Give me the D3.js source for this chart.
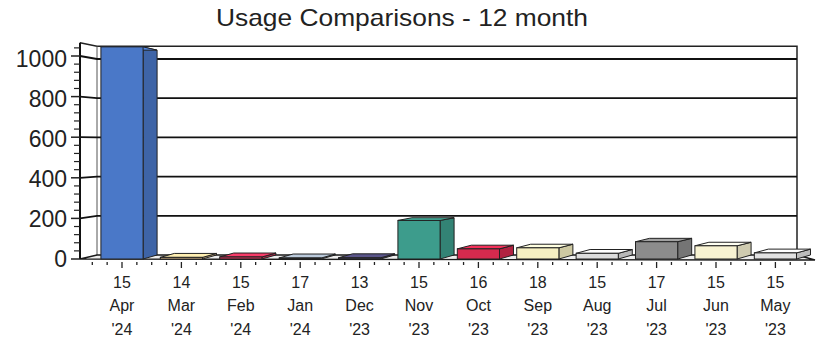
<!DOCTYPE html>
<html>
<head>
<meta charset="utf-8">
<script src="https://cdn.jsdelivr.net/npm/d3@7"></script>
<style>
  body { margin: 0; background: #fff; }
  svg text { font-family: "Liberation Sans", Arial, sans-serif; fill: #222; }
</style>
</head>
<body>
<svg id="chart" width="820" height="342"></svg>
<script>
// usage per billing period, newest first
const months = ["Apr", "Mar", "Feb", "Jan", "Dec", "Nov", "Oct", "Sep", "Aug", "Jul", "Jun", "May"];
const days = ["15", "14", "15", "17", "13", "15", "16", "18", "15", "17", "15", "15"];
const years = ["'24", "'24", "'24", "'24", "'23", "'23", "'23", "'23", "'23", "'23", "'23", "'23"];
const usage = [1045, 8, 10, 5, 6, 190, 50, 55, 28, 85, 65, 30];
const barColors = ["#4a78c8", "#f3cf9a", "#d8345c", "#a3b0bf", "#4e4a78", "#3d9c8c",
                   "#d42a4e", "#f6f0c2", "#dcdcdc", "#8c8c8c", "#f8f3d2", "#e2e2e2"];
const yTicks = [0, 200, 400, 600, 800, 1000];
const yMax = 1065;

const svg = d3.select("#chart");

// front plane and back wall use slightly different vertical scales (perspective)
const yFront = d3.scaleLinear().domain([0, 1000]).range([259, 56]);
const yBack = d3.scaleLinear().domain([0, 1000]).range([255, 59]);
const x = d3.scaleBand().domain(months.map((m, i) => i)).range([92.3, 805.1])
    .paddingInner(0.29).paddingOuter(0.145);
const depth = 14;
const wallL = 97, wallR = 797, axisX = 80, floorR = 815;

// title
svg.append("text").attr("x", 402).attr("y", 26).attr("text-anchor", "middle")
    .attr("textLength", 372).attr("lengthAdjust", "spacingAndGlyphs")
    .style("font-size", "24px").text("Usage Comparisons - 12 month");

const g = svg.append("g");

// back wall outline
g.append("path")
    .attr("d", `M${axisX},${yFront(yMax)} L${wallL},${yBack(yMax)} L${wallR},${yBack(yMax)} L${wallR},${yBack(0)}`)
    .attr("fill", "none").attr("stroke", "#222").attr("stroke-width", 1.5);
g.append("line").attr("x1", wallL).attr("x2", wallL).attr("y1", yBack(yMax)).attr("y2", yBack(0))
    .attr("stroke", "#555").attr("stroke-width", 1);

// gridlines on back wall + connectors to the front axis
yTicks.filter(d => d > 0).forEach(v => {
    g.append("path")
        .attr("d", `M${axisX},${yFront(v)} L${wallL},${yBack(v)} L${wallR},${yBack(v)}`)
        .attr("fill", "none").attr("stroke", "#111").attr("stroke-width", 1.8);
});

// floor
g.append("path")
    .attr("d", `M${axisX},${yFront(0)} L${floorR},${yFront(0) + 1} L${wallR},${yBack(0)} L${wallL},${yBack(0)} Z`)
    .attr("fill", "#eee").attr("stroke", "#1a1a1a").attr("stroke-width", 1.4);

// bars
const bars = g.selectAll("g.bar").data(usage).join("g").attr("class", "bar");
bars.append("path") // side face
    .attr("d", (d, i) => {
        const x1 = x(i) + x.bandwidth();
        return `M${x1},${yFront(d)} L${x1 + depth},${yBack(d)} L${x1 + depth},${yBack(0)} L${x1},${yFront(0)} Z`;
    })
    .attr("fill", (d, i) => d3.color(barColors[i]).darker(0.5))
    .attr("stroke", "#222").attr("stroke-width", 1);
bars.append("path") // top face
    .attr("d", (d, i) => {
        const x0 = x(i), x1 = x0 + x.bandwidth();
        return `M${x0},${yFront(d)} L${x1},${yFront(d)} L${x1 + depth},${yBack(d)} L${x0 + depth},${yBack(d)} Z`;
    })
    .attr("fill", (d, i) => d3.color(barColors[i]).brighter(0.4))
    .attr("stroke", "#222").attr("stroke-width", 1);
bars.append("rect") // front face
    .attr("x", (d, i) => x(i))
    .attr("width", x.bandwidth())
    .attr("y", d => yFront(d))
    .attr("height", d => yFront(0) - yFront(d))
    .attr("fill", (d, i) => barColors[i])
    .attr("stroke", "#222").attr("stroke-width", 1);

// front y axis with minor ticks
g.append("line").attr("x1", axisX).attr("x2", axisX).attr("y1", yFront(yMax)).attr("y2", yFront(0))
    .attr("stroke", "#111").attr("stroke-width", 2);
d3.range(0, 1041, 40).forEach(v => {
    const major = v % 200 === 0;
    g.append("line").attr("x1", major ? axisX - 9 : axisX - 6).attr("x2", axisX)
        .attr("y1", yFront(v)).attr("y2", yFront(v))
        .attr("stroke", "#222").attr("stroke-width", major ? 1.5 : 1.2);
});
g.selectAll("text.ylab").data(yTicks).join("text").attr("class", "ylab")
    .attr("x", 67).attr("y", d => (yFront(d) + yBack(d)) / 2 + 1.5)
    .attr("text-anchor", "end").attr("dominant-baseline", "central")
    .style("font-size", "23px").text(d => d);

// x ticks: four per category, longer at the centre
const step = x.step();
d3.range(0, 49).forEach(k => {
    const xx = 92.3 + k * step / 4;
    const major = k % 4 === 2;
    g.append("line").attr("x1", xx).attr("x2", xx)
        .attr("y1", yFront(0) + 3).attr("y2", yFront(0) + (major ? 9 : 6))
        .attr("stroke", "#222").attr("stroke-width", 1.3);
});

const labels = g.selectAll("text.xlab").data(months).join("text").attr("class", "xlab")
    .attr("text-anchor", "middle").style("font-size", "16px");
labels.append("tspan").attr("x", (d, i) => x(i) + x.bandwidth() / 2).attr("y", 288).text((d, i) => days[i]);
labels.append("tspan").attr("x", (d, i) => x(i) + x.bandwidth() / 2).attr("y", 311).text(d => d);
labels.append("tspan").attr("x", (d, i) => x(i) + x.bandwidth() / 2).attr("y", 335).text((d, i) => years[i]);
</script>
</body>
</html>
